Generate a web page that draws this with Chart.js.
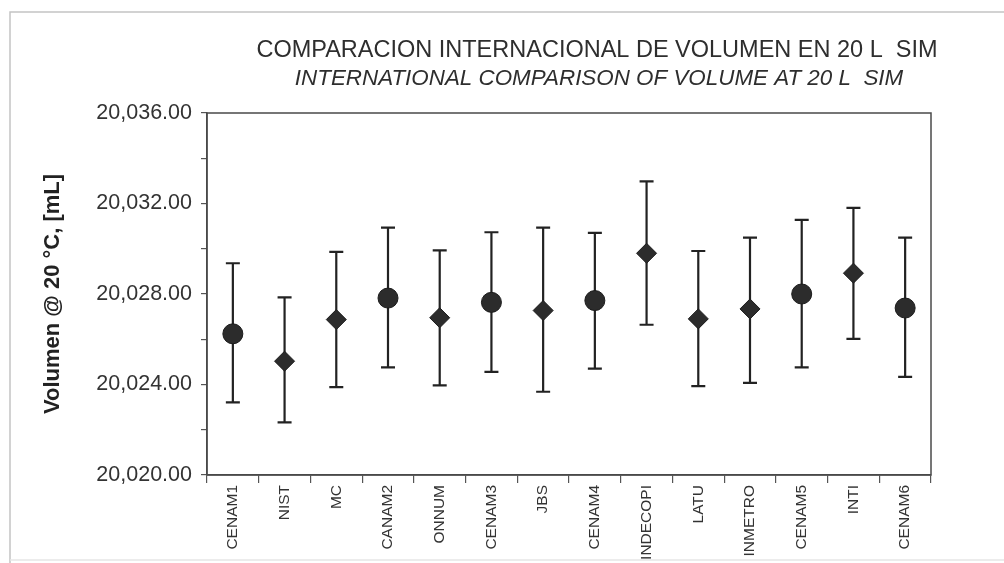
<!DOCTYPE html>
<html>
<head>
<meta charset="utf-8">
<script src="https://cdn.jsdelivr.net/npm/chart.js@4.4.1/dist/chart.umd.min.js"></script>
<style>
  html, body { margin: 0; padding: 0; background: #ffffff; }
  #wrap { width: 1004px; height: 563px; position: relative; }
  canvas { display: block; }
</style>
</head>
<body>
<div id="wrap"><canvas id="c" width="1004" height="563"></canvas></div>
<script>
// ---- data ----
const categories = ['CENAM1','NIST','MC','CANAM2','ONNUM','CENAM3','JBS','CENAM4','INDECOPI','LATU','INMETRO','CENAM5','INTI','CENAM6'];
const volumes    = [20026.24, 20025.03, 20026.87, 20027.82, 20026.95, 20027.63, 20027.27, 20027.71, 20029.80, 20026.90, 20027.34, 20028.00, 20028.92, 20027.38];
const upperLimit = [20029.36, 20027.85, 20029.86, 20030.93, 20029.93, 20030.73, 20030.93, 20030.70, 20032.98, 20029.90, 20030.49, 20031.28, 20031.81, 20030.49];
const lowerLimit = [20023.21, 20022.33, 20023.88, 20024.76, 20023.96, 20024.56, 20023.68, 20024.70, 20026.64, 20023.93, 20024.07, 20024.76, 20026.02, 20024.34];
const markerShapes = ['circle','rectRot','rectRot','circle','rectRot','circle','rectRot','circle','rectRot','rectRot','rectRot','circle','rectRot','circle'];
const yMin = 20020, yMax = 20036, yStep = 2, yLabelStep = 4;
const titleLine1 = 'COMPARACION INTERNACIONAL DE VOLUMEN EN 20 L  SIM';
const titleLine2 = 'INTERNATIONAL COMPARISON OF VOLUME AT 20 L  SIM';
const yAxisTitle = 'Volumen @ 20 °C, [mL]';

const FONT = "'Liberation Sans', Arial, Helvetica, sans-serif";

const bgAndFrame = {
  id: 'bgAndFrame',
  beforeDraw(chart) {
    const ctx = chart.ctx;
    ctx.save();
    ctx.fillStyle = '#ffffff';
    ctx.fillRect(0, 0, chart.width, chart.height);
    ctx.strokeStyle = '#c4c4c4';
    ctx.lineWidth = 1.5;
    ctx.beginPath();
    ctx.moveTo(10, 563); ctx.lineTo(10, 12); ctx.lineTo(1004, 12);
    ctx.stroke();
    ctx.strokeStyle = '#e6e6e6';
    ctx.beginPath();
    ctx.moveTo(10, 560); ctx.lineTo(1004, 560);
    ctx.stroke();
    // titles
    ctx.fillStyle = '#2e2e2e';
    ctx.textAlign = 'center';
    ctx.textBaseline = 'alphabetic';
    ctx.font = '23.5px ' + FONT;
    ctx.fillText(titleLine1, 597, 57);
    ctx.font = 'italic 22.4px ' + FONT;
    ctx.fillText(titleLine2, 599, 85);
    ctx.restore();
  },
  afterDraw(chart) {
    const a = chart.chartArea;
    const ctx = chart.ctx;
    ctx.save();
    ctx.strokeStyle = '#4a4a4a';
    ctx.lineWidth = 1.5;
    ctx.strokeRect(a.left, a.top, a.right - a.left, a.bottom - a.top);
    ctx.restore();
  }
};

const errorBars = {
  id: 'errorBars',
  beforeDatasetsDraw(chart) {
    const ctx = chart.ctx;
    const xs = chart.scales.x, ys = chart.scales.y;
    ctx.save();
    ctx.strokeStyle = '#222222';
    ctx.lineWidth = 2.2;
    const cap = 7;
    for (let i = 0; i < categories.length; i++) {
      const x = xs.getPixelForValue(i);
      const yt = ys.getPixelForValue(upperLimit[i]);
      const yb = ys.getPixelForValue(lowerLimit[i]);
      ctx.beginPath();
      ctx.moveTo(x, yt); ctx.lineTo(x, yb);
      ctx.moveTo(x - cap, yt); ctx.lineTo(x + cap, yt);
      ctx.moveTo(x - cap, yb); ctx.lineTo(x + cap, yb);
      ctx.stroke();
    }
    ctx.restore();
  }
};

new Chart(document.getElementById('c'), {
  type: 'line',
  data: {
    labels: categories,
    datasets: [{
      data: volumes,
      showLine: false,
      pointStyle: markerShapes,
      pointRadius: 10,
      pointHoverRadius: 10,
      pointBackgroundColor: '#2c2c2c',
      pointBorderColor: '#1c1c1c',
      pointBorderWidth: 1
    }]
  },
  options: {
    responsive: false,
    animation: false,
    events: [],
    layout: { padding: { left: 0, top: 113, right: 73, bottom: 0 } },
    plugins: { legend: { display: false }, tooltip: { enabled: false }, title: { display: false } },
    scales: {
      x: {
        type: 'category',
        offset: true,
        afterFit(s) { s.height = 88; },
        grid: { offset: true, drawOnChartArea: false, drawTicks: true, tickLength: 8, color: '#555555', lineWidth: 1.2 },
        border: { display: true, color: '#4a4a4a', width: 1.5 },
        ticks: { autoSkip: false, maxRotation: 90, minRotation: 90, padding: 2, color: '#333333', font: { family: FONT, size: 15.5 } }
      },
      y: {
        min: yMin, max: yMax,
        afterFit(s) { s.width = 207; },
        grid: { drawOnChartArea: false, drawTicks: true, tickLength: 6, color: '#555555', lineWidth: 1.2 },
        border: { display: true, color: '#4a4a4a', width: 1.5 },
        ticks: {
          stepSize: yStep, padding: 9, color: '#333333', font: { family: FONT, size: 21.5 },
          callback(v) {
            const r = Math.round(v);
            if (r % yLabelStep !== 0) return '';
            return r.toLocaleString('en-US', { minimumFractionDigits: 2, maximumFractionDigits: 2 });
          }
        },
        title: { display: true, text: yAxisTitle, color: '#222222', font: { family: FONT, size: 22, weight: 'bold' }, padding: { top: 40, bottom: 0 } }
      }
    }
  },
  plugins: [bgAndFrame, errorBars]
});
</script>
</body>
</html>
